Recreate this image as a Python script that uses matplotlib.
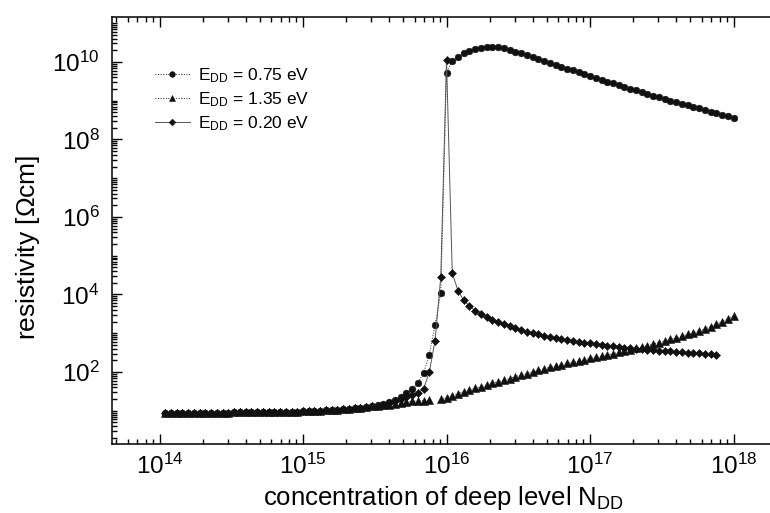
"""Resistivity vs. deep-level concentration for three deep donor energies."""
import numpy as np
import matplotlib
matplotlib.use("Agg")
import matplotlib.pyplot as plt
from matplotlib.ticker import LogLocator, NullFormatter, LogFormatterSciNotation

plt.rcParams["font.family"] = ["Liberation Sans", "DejaVu Sans"]
plt.rcParams["mathtext.fontset"] = "custom"
plt.rcParams["mathtext.rm"] = "Liberation Sans"
plt.rcParams["mathtext.it"] = "Liberation Sans:italic"

# log10 of N_DD (cm^-3), as sampled in the figure
LOG_N = [
    14.04, 14.08, 14.12, 14.16, 14.20, 14.24, 14.28, 14.32, 14.36, 14.40,
    14.44, 14.48, 14.52, 14.56, 14.60, 14.64, 14.68, 14.72, 14.76, 14.80,
    14.84, 14.88, 14.92, 14.96, 15.00, 15.04, 15.08, 15.12, 15.16, 15.20,
    15.24, 15.28, 15.32, 15.36, 15.40, 15.44, 15.48, 15.52, 15.56, 15.60,
    15.64, 15.68, 15.72, 15.76, 15.80, 15.84, 15.88, 15.92, 15.96, 16.00,
    16.04, 16.08, 16.12, 16.16, 16.20, 16.24, 16.28, 16.32, 16.36, 16.40,
    16.44, 16.48, 16.52, 16.56, 16.60, 16.64, 16.68, 16.72, 16.76, 16.80,
    16.84, 16.88, 16.92, 16.96, 17.00, 17.04, 17.08, 17.12, 17.16, 17.20,
    17.24, 17.28, 17.32, 17.36, 17.40, 17.44, 17.48, 17.52, 17.56, 17.60,
    17.64, 17.68, 17.72, 17.76, 17.80, 17.84, 17.88, 17.92, 17.96, 18.00,
]

# log10 of resistivity (Ohm cm); all three curves coincide up to 15.48
PLATEAU = [
    0.95, 0.95, 0.95, 0.95, 0.95, 0.95, 0.95, 0.95, 0.95, 0.95, 0.95, 0.95,
    0.96, 0.96, 0.96, 0.96, 0.96, 0.97, 0.97, 0.97, 0.97, 0.98, 0.98, 0.98,
    0.99, 0.99, 1.00, 1.00, 1.01, 1.02, 1.03, 1.04, 1.05, 1.06, 1.08, 1.09,
    1.11,
]
TAIL_075 = [
    1.14, 1.18, 1.23, 1.29, 1.36, 1.45, 1.55, 1.72, 1.97, 2.45, 3.20, 4.04, 9.72,
    10.03, 10.12, 10.22, 10.29, 10.34, 10.37, 10.39, 10.39, 10.38, 10.35,
    10.31, 10.26, 10.22, 10.17, 10.12, 10.07, 10.02, 9.97, 9.92, 9.88,
    9.83, 9.78, 9.73, 9.68, 9.63, 9.59, 9.54, 9.49, 9.45, 9.40,
    9.36, 9.31, 9.27, 9.22, 9.18, 9.13, 9.09, 9.05, 9.00, 8.96,
    8.92, 8.88, 8.84, 8.80, 8.76, 8.72, 8.68, 8.64, 8.60, 8.56,
]
TAIL_135 = [
    1.12, 1.14, 1.16, 1.18, 1.20, 1.22, 1.24, 1.25, 1.26, 1.27, np.nan, 1.30, 1.34,
    1.39, 1.44, 1.49, 1.53, 1.58, 1.62, 1.66, 1.71, 1.75, 1.79,
    1.83, 1.88, 1.92, 1.96, 2.00, 2.04, 2.08, 2.12, 2.15, 2.19,
    2.22, 2.25, 2.28, 2.31, 2.35, 2.38, 2.41, 2.44, 2.47, 2.51,
    2.54, 2.57, 2.61, 2.64, 2.68, 2.72, 2.76, 2.80, 2.84, 2.88,
    2.92, 2.97, 3.01, 3.06, 3.11, 3.17, 3.23, 3.30, 3.37, 3.45,
]
TAIL_020 = [
    1.13, 1.16, 1.20, 1.25, 1.30, 1.36, 1.40, 1.46, 1.56, 2.00, 2.80, 4.45, 10.05,
    4.55, 4.10, 3.85, 3.70, 3.58, 3.50, 3.42, 3.35, 3.28, 3.23,
    3.18, 3.13, 3.08, 3.04, 3.00, 2.97, 2.94, 2.91, 2.88, 2.85,
    2.83, 2.80, 2.78, 2.76, 2.74, 2.72, 2.70, 2.68, 2.66, 2.65,
    2.63, 2.62, 2.60, 2.59, 2.57, 2.56, 2.55, 2.54, 2.53, 2.52,
    2.51, 2.50, 2.49, 2.48, 2.47, 2.46, 2.45, np.nan, np.nan, np.nan,
]

SERIES = [
    (r"E$_{\mathregular{DD}}$ = 0.75 eV", PLATEAU + TAIL_075, "o", ":", 4.8, "#222222"),
    (r"E$_{\mathregular{DD}}$ = 1.35 eV", PLATEAU + TAIL_135, "^", ":", 5.2, "#222222"),
    (r"E$_{\mathregular{DD}}$ = 0.20 eV", PLATEAU + TAIL_020, "D", "-", 4.0, "#555555"),
]

W, H = 770, 513
fig = plt.figure(figsize=(W / 100, H / 100), dpi=100)
# axes frame in pixels: left 112, right ~775 (spine just off canvas), top 17, bottom 444
ax = fig.add_axes([112 / W, 1 - 444 / H, (775 - 112) / W, (444 - 17) / H])

n = 10.0 ** np.array(LOG_N)
for label, vals, mk, ls, ms, lc in SERIES:
    ax.plot(n, 10.0 ** np.array(vals), linestyle=ls, linewidth=0.7, color=lc,
            marker=mk, markersize=ms, markeredgewidth=0.4,
            markerfacecolor="#111111", markeredgecolor="#111111", label=label)

ax.set_xscale("log")
ax.set_yscale("log")
ax.set_xlim(10 ** 13.669, 10 ** 18.289)
ax.set_ylim(10 ** 0.142, 10 ** 11.16)

ax.xaxis.set_major_locator(LogLocator(base=10, numticks=20))
ax.xaxis.set_minor_locator(LogLocator(base=10, subs=np.arange(2, 10), numticks=100))
ax.yaxis.set_major_locator(LogLocator(base=100, numticks=20))
ax.yaxis.set_minor_locator(LogLocator(base=10, subs=np.arange(1, 10), numticks=100))
ax.xaxis.set_major_formatter(LogFormatterSciNotation())
ax.yaxis.set_major_formatter(LogFormatterSciNotation())
ax.xaxis.set_minor_formatter(NullFormatter())
ax.yaxis.set_minor_formatter(NullFormatter())
ax.xaxis.get_offset_text().set_visible(False)
ax.yaxis.get_offset_text().set_visible(False)

ax.tick_params(which="both", direction="in", top=True, right=False, width=1.0)
ax.tick_params(which="major", length=7, labelsize=17.5)
ax.tick_params(which="minor", length=3.5)
ax.tick_params(axis="y", which="major", pad=9)
ax.tick_params(axis="x", which="major", pad=7)
for sp in ax.spines.values():
    sp.set_linewidth(1.1)

ax.set_xlabel(r"concentration of deep level N$_{\mathregular{DD}}$", fontsize=18.5, labelpad=4)
ax.set_ylabel(r"resistivity [$\Omega$cm]", fontsize=19)
# label sits a little below the axes centre in the original
ax.yaxis.set_label_coords((42 - 112) / 663, (444 - 247) / 427)

ax.legend(loc="upper left", bbox_to_anchor=(155 / W, 1 - 66 / H),
          bbox_transform=fig.transFigure, frameon=False, fontsize=12.5,
          handlelength=2.0, handletextpad=0.5, labelspacing=0.3,
          borderpad=0, borderaxespad=0, markerscale=0.85)

fig.savefig("out.png", dpi=100)
